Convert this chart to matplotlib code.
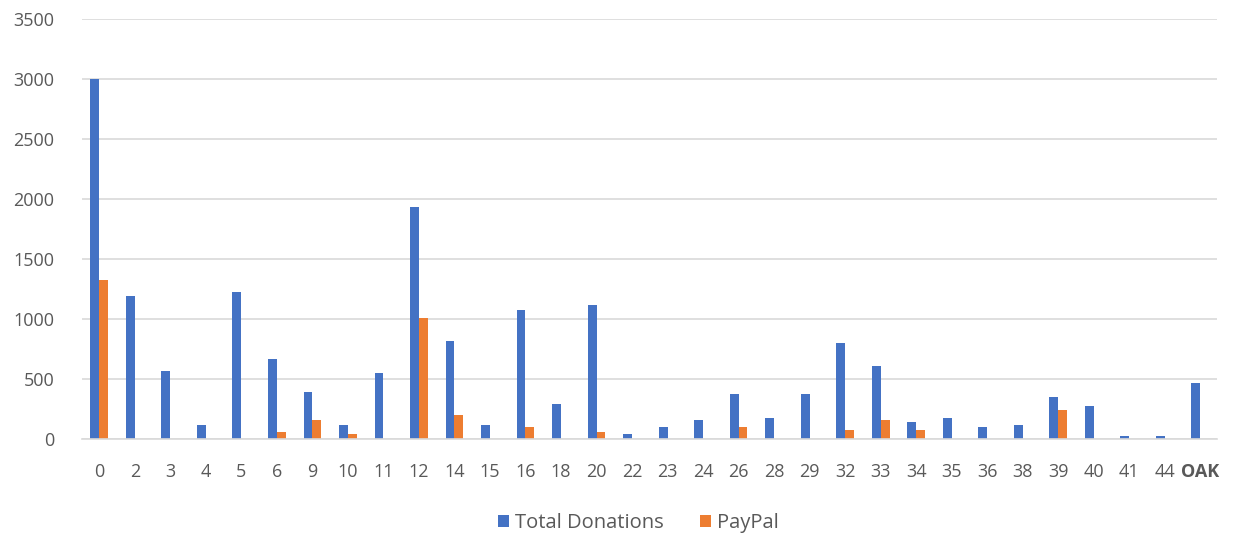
import matplotlib
matplotlib.use('Agg')
import matplotlib.pyplot as plt
import numpy as np

# categories and values
districts = ['0', '2', '3', '4', '5', '6', '9', '10', '11', '12', '14', '15', '16', '18',
             '20', '22', '23', '24', '26', '28', '29', '32', '33', '34', '35', '36', '38',
             '39', '40', '41', '44', 'OAK']
total_donations = [3000, 1190, 570, 120, 1230, 670, 390, 120, 550, 1930, 820, 120, 1075, 295,
                   1115, 40, 100, 160, 375, 180, 375, 800, 610, 140, 180, 100, 120,
                   355, 275, 25, 25, 470]
paypal = [1325, 0, 0, 0, 0, 60, 160, 45, 0, 1010, 200, 0, 100, 0,
          60, 0, 0, 0, 100, 0, 0, 80, 160, 80, 0, 0, 0,
          240, 0, 0, 0, 0]

plt.rcParams['font.family'] = ['Open Sans', 'DejaVu Sans']

fig = plt.figure(figsize=(12.46, 5.39), dpi=100)
ax = fig.add_axes([0.066, 0.185, 0.911, 0.78])

x = np.arange(len(districts))
w = 0.25
ax.bar(x - w / 2, total_donations, w, color='#4472C4', label='Total Donations')
ax.bar(x + w / 2, paypal, w, color='#ED7D31', label='PayPal')

ax.set_xlim(-0.48, len(districts) - 0.52)
ax.set_ylim(0, 3500)
ax.set_yticks(np.arange(0, 3501, 500))
ax.yaxis.grid(True, color='#D9D9D9', linewidth=1.2)
ax.set_axisbelow(True)
for s in ['top', 'right', 'left']:
    ax.spines[s].set_visible(False)
ax.spines['bottom'].set_color('#D9D9D9')
ax.spines['bottom'].set_linewidth(1.2)

ax.set_xticks(x)
ax.set_xticklabels(districts)
ax.tick_params(axis='both', length=0, labelsize=13, colors='#595959')
ax.tick_params(axis='x', pad=17)
ax.tick_params(axis='y', pad=20)
ax.get_xticklabels()[-1].set_fontweight('bold')

ax.legend(loc='center', bbox_to_anchor=(0.49, -0.2), ncol=2, frameon=False,
          fontsize=14.5, labelcolor='#595959', handlelength=0.55, handleheight=0.55,
          columnspacing=1.8, handletextpad=0.3)

fig.savefig('out.png', dpi=100)
